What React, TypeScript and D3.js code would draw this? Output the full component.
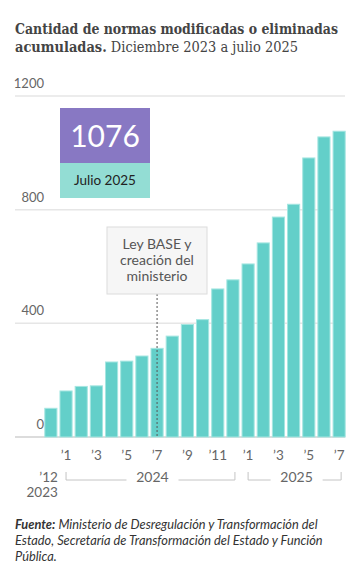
import React from "react";
import * as d3 from "d3";

const months = ["2023-12","2024-01","2024-02","2024-03","2024-04","2024-05","2024-06","2024-07","2024-08","2024-09","2024-10","2024-11","2024-12","2025-01","2025-02","2025-03","2025-04","2025-05","2025-06","2025-07"];
const values = [101,162,178,180,264,267,285,312,355,396,413,521,553,609,683,774,819,982,1056,1076];
const yTicks = [0,400,800,1200];
const monthTicks = ["2024-01","2024-03","2024-05","2024-07","2024-09","2024-11","2025-01","2025-03","2025-05","2025-07"];
const years = [{ year: "2024", from: "2024-01", to: "2024-12" }, { year: "2025", from: "2025-01", to: "2025-07" }];
const eventMonth = "2024-07";
const eventLines = ["Ley BASE y", "creación del", "ministerio"];

const W = 360, H = 584;

export default function App() {
  const x = d3.scaleBand<string>().domain(months).range([44.5, 345.5]).paddingInner(0.2).paddingOuter(0.02);
  const y = d3.scaleLinear().domain([0, 1200]).range([437, 96]);
  const cx = (m: string) => (x(m) as number) + x.bandwidth() / 2;
  const lato = "Lato, 'Noto Sans', sans-serif";
  const serif = "'DejaVu Serif Condensed', 'DejaVu Serif', serif";
  const grey = "#666";
  const ex = cx(eventMonth);
  return (
    <svg width={W} height={H} style={{ position: "absolute", left: 0, top: 0, background: "#fff" }}>
      <text x={15} y={34} fontFamily={serif} fontSize={14.6} fontWeight={700} fill="#444" textLength={323} lengthAdjust="spacingAndGlyphs">Cantidad de normas modificadas o eliminadas</text>
      <text x={15} y={51.5} fontFamily={serif} fontSize={14.6} fill="#444" textLength={283} lengthAdjust="spacingAndGlyphs">
        <tspan fontWeight={700}>acumuladas.</tspan>
        <tspan> Diciembre 2023 a julio 2025</tspan>
      </text>
      {yTicks.map(t => (
        <g key={t}>
          <line x1={15} x2={345} y1={y(t)} y2={y(t)} stroke={t === 0 ? "#d0d0d0" : "#e6e6e6"} strokeWidth={1.5} />
          <text x={44} y={y(t) - 8} textAnchor="end" fontFamily={lato} fontSize={13} fill={grey}>{t}</text>
        </g>
      ))}
      {months.map((m, i) => (
        <rect key={m} x={x(m)} y={y(values[i])} width={x.bandwidth()} height={y(0) - y(values[i])} fill="#63cfc9" stroke="#a5e6e1" strokeWidth={1} />
      ))}
      <line x1={ex} x2={ex} y1={294} y2={y(0)} stroke="#555" strokeWidth={1} strokeDasharray="2,2" />
      <rect x={107} y={227} width={100} height={67} fill="#f6f6f6" stroke="#dcdcdc" strokeWidth={1} />
      {eventLines.map((l, i) => (
        <text key={l} x={157} y={249 + i * 16} textAnchor="middle" fontFamily={lato} fontSize={14} fill="#555">{l}</text>
      ))}
      <rect x={60} y={108} width={90} height={55} fill="#8878c3" />
      <rect x={60} y={163} width={90} height={35} fill="#93ddd4" />
      <text x={105} y={146.5} textAnchor="middle" fontFamily={lato} fontSize={30} fill="#fff">{values[values.length - 1]}</text>
      <text x={105} y={185} textAnchor="middle" fontFamily={lato} fontSize={13.5} fill="#222">Julio 2025</text>
      {monthTicks.map(m => (
        <text key={m} x={cx(m)} y={460} textAnchor="middle" fontFamily={lato} fontSize={13.5} fill={grey}>{"’" + String(+m.slice(5))}</text>
      ))}
      <text x={cx(months[0]) + 7} y={482} textAnchor="end" fontFamily={lato} fontSize={13.5} fill={grey}>{"’" + String(+months[0].slice(5))}</text>
      <text x={cx(months[0]) + 7} y={497} textAnchor="end" fontFamily={lato} fontSize={13.5} fill={grey}>{months[0].slice(0, 4)}</text>
      {years.map(yr => {
        const a = cx(yr.from), b = cx(yr.to) + 2, mid = (a + b) / 2 + 2;
        const gap = 26;
        return (
          <g key={yr.year}>
            <path d={`M${a},472V480H${mid - gap}M${mid + gap},480H${b}V472`} fill="none" stroke="#c4c4c4" strokeWidth={1} />
            <text x={mid} y={482} textAnchor="middle" fontFamily={lato} fontSize={14} fill={grey}>{yr.year}</text>
          </g>
        );
      })}
      <text x={15} y={529} fontFamily={lato} fontSize={12.8} fontStyle="italic" fill="#333">
        <tspan fontWeight={700}>Fuente:</tspan> Ministerio de Desregulación y Transformación del
      </text>
      <text x={15} y={545} fontFamily={lato} fontSize={12.8} fontStyle="italic" fill="#333">Estado, Secretaría de Transformación del Estado y Función</text>
      <text x={15} y={561} fontFamily={lato} fontSize={12.8} fontStyle="italic" fill="#333">Pública.</text>
    </svg>
  );
}
